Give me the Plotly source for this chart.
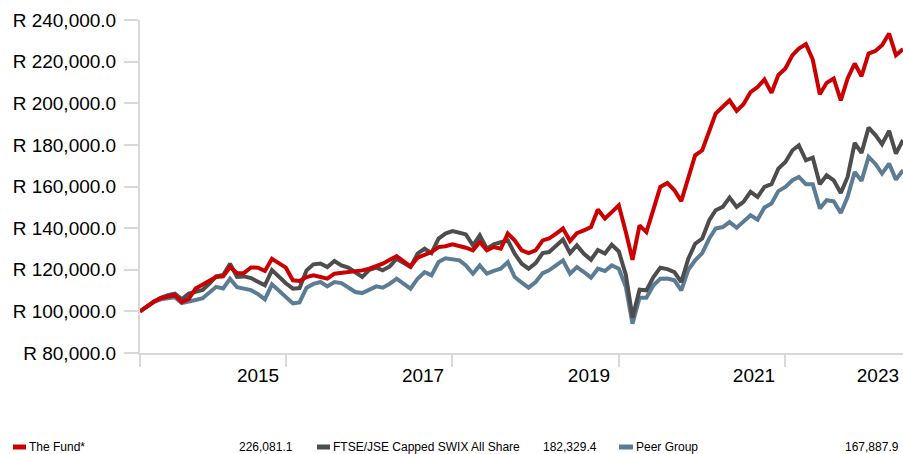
import pandas as pd
import plotly.graph_objects as go

# ---------------- data ----------------
dates = pd.date_range("2014-04-01", periods=111, freq="MS")

fund = [100000, 102300, 104600, 106300, 107200, 107800, 104500, 106000, 111000, 113000,
        114800, 116500, 116800, 121300, 118300, 118400, 121100, 121000, 119400, 125300,
        123200, 121000, 114900, 114600, 116500, 117300, 116500, 115700, 118100, 118500,
        118900, 118900, 119700, 120500, 121600, 122900, 124800, 126500, 124000, 121600,
        125800, 127400, 128500, 130900, 131300, 132200, 131500, 130600, 129300, 133300,
        129300, 130900, 130100, 137400, 134100, 129300, 128000, 129300, 134100, 135000,
        137400, 139800, 133800, 137600, 138900, 140500, 148900, 144600, 147700, 151000,
        138000, 124800, 141300, 138100, 149000, 159800, 161700, 158200, 153000, 164000,
        175000, 177400, 186000, 195000, 198300, 201400, 196300, 199500, 205400, 207800,
        211400, 205000, 213500, 216700, 223100, 226300, 228400, 221000, 204300, 209800,
        211900, 201400, 211900, 219100, 213000, 223900, 225200, 227900, 233500, 223100,
        226081.1]

swix = [100000, 102500, 104800, 106500, 107800, 108500, 105800, 108500, 109500, 110300,
        113500, 116800, 117500, 122900, 116600, 116800, 116000, 114100, 112500, 119800,
        116500, 113500, 110900, 111200, 119700, 122600, 123000, 121300, 124200, 122100,
        121000, 118900, 116500, 120000, 121000, 119700, 121600, 125300, 123300, 121300,
        127700, 130100, 128000, 135000, 137400, 138600, 137800, 137000, 131700, 136500,
        130100, 132200, 133200, 134100, 127700, 122900, 120500, 123200, 128000, 128500,
        131500, 134500, 128000, 131700, 127700, 124800, 129500, 127800, 132000, 128800,
        117500, 97000, 110400, 110100, 116500, 121000, 120300, 118900, 114100, 125300,
        132500, 135000, 143800, 148600, 150200, 154700, 150200, 152600, 157400, 155000,
        159800, 161100, 168600, 171800, 177400, 179800, 172600, 173900, 161100, 165400,
        163000, 156900, 164600, 180900, 176100, 188300, 184600, 180300, 186700, 175800,
        182329.4]

peer = [100000, 102300, 104500, 105800, 106500, 106800, 104000, 105000, 105500, 106300,
        109200, 111800, 111000, 115700, 111600, 111000, 110200, 108300, 105800, 113000,
        110000, 107000, 103800, 104300, 111400, 113200, 114100, 112000, 114100, 113600,
        111400, 109300, 108800, 110500, 112000, 111400, 113300, 115700, 113500, 110900,
        115700, 118900, 117300, 123700, 125500, 125000, 124500, 122100, 118100, 122100,
        118100, 119500, 120500, 123700, 116500, 113800, 111400, 114100, 118400, 119700,
        122000, 124500, 118100, 121300, 118900, 116200, 120500, 119400, 122100, 120500,
        111700, 94100, 106600, 106600, 112500, 115700, 115800, 114900, 110100, 120000,
        124500, 128000, 135000, 139800, 140500, 142900, 140200, 143000, 146200, 144100,
        149900, 151800, 157800, 159800, 163000, 164600, 161100, 161100, 149400, 153400,
        152900, 147300, 155000, 167000, 162700, 174200, 170700, 166200, 171000, 163300,
        167887.9]

series_names = ["The Fund*", "FTSE/JSE Capped SWIX All Share", "Peer Group"]
final_values = ["226,081.1", "182,329.4", "167,887.9"]

year_labels = ["2015", "2017", "2019", "2021", "2023"]
year_label_pos = ["2015-09-01", "2017-08-25", "2019-08-23", "2021-08-16", "2023-02-11"]
year_tick_pos = ["2014-04-01", "2016-01-01", "2018-01-01", "2020-01-01", "2022-01-01"]
y_ticks = [80000, 100000, 120000, 140000, 160000, 180000, 200000, 220000, 240000]
y_tick_labels = ["R 80,000.0", "R 100,000.0", "R 120,000.0", "R 140,000.0", "R 160,000.0",
                 "R 180,000.0", "R 200,000.0", "R 220,000.0", "R 240,000.0"]

# ---------------- style ----------------
RED = "#cc0000"
GRAY = "#4d4d4d"
BLUE = "#5b7c95"
AXIS = "#d9d9d9"
W, H = 903, 454
ML, MR, MT, MB = 140, 0, 20, 101

fig = go.Figure()
for vals, col, name in [(peer, BLUE, series_names[2]),
                        (swix, GRAY, series_names[1]),
                        (fund, RED, series_names[0])]:
    fig.add_trace(go.Scatter(x=dates, y=vals, mode="lines", name=name,
                             line=dict(color=col, width=4), hoverinfo="skip"))

fig.update_layout(
    width=W, height=H,
    margin=dict(l=ML, r=MR, t=MT, b=MB, pad=0),
    plot_bgcolor="white", paper_bgcolor="white",
    showlegend=False,
    font=dict(family="Liberation Sans, Arial, sans-serif", color="#000000"),
)
fig.update_xaxes(
    type="date", range=[dates[0], dates[-1]],
    showgrid=False, zeroline=False,
    showline=True, linecolor=AXIS, linewidth=2,
    tickmode="array", tickvals=year_label_pos, ticktext=year_labels,
    ticks="", tickfont=dict(size=19), ticklabelstandoff=4,
    minor=dict(tickmode="array", tickvals=year_tick_pos, ticks="outside",
               ticklen=12, tickwidth=2, tickcolor=AXIS, showgrid=False),
)
fig.update_yaxes(
    range=[80000, 240000],
    showgrid=False, zeroline=False,
    showline=True, linecolor=AXIS, linewidth=2,
    tickmode="array", tickvals=y_ticks, ticktext=y_tick_labels,
    ticks="outside", ticklen=14, tickwidth=2, tickcolor=AXIS,
    tickfont=dict(size=19), ticklabelstandoff=4,
)

# ---------------- custom legend row ----------------
PW = W - ML - MR
PH = H - MT - MB


def px(x):
    return (x - ML) / PW


def py(y):
    return (H - MB - y) / PH


LEG_Y = 447
legend_items = [
    (13, 26, 28, 294, RED),
    (317, 330, 332, 598, GRAY),
    (619, 633, 635, 900, BLUE),
]
for (x0, x1, tx, vx, col), name, val in zip(legend_items, series_names, final_values):
    fig.add_shape(type="rect", xref="paper", yref="paper",
                  x0=px(x0), x1=px(x1), y0=py(LEG_Y + 2.5), y1=py(LEG_Y - 2.5),
                  fillcolor=col, line=dict(width=0))
    fig.add_annotation(xref="paper", yref="paper", x=px(tx), y=py(LEG_Y),
                       text=name, showarrow=False, xanchor="left", yanchor="middle",
                       font=dict(size=12, color="#000000"), borderpad=0)
    fig.add_annotation(xref="paper", yref="paper", x=px(vx), y=py(LEG_Y),
                       text=val, showarrow=False, xanchor="right", yanchor="middle",
                       font=dict(size=12, color="#000000"), borderpad=0)

fig.write_html(
    "out.html",
    config={"displayModeBar": False},
    post_script="document.body.style.margin='0';document.body.style.overflow='hidden';",
)
